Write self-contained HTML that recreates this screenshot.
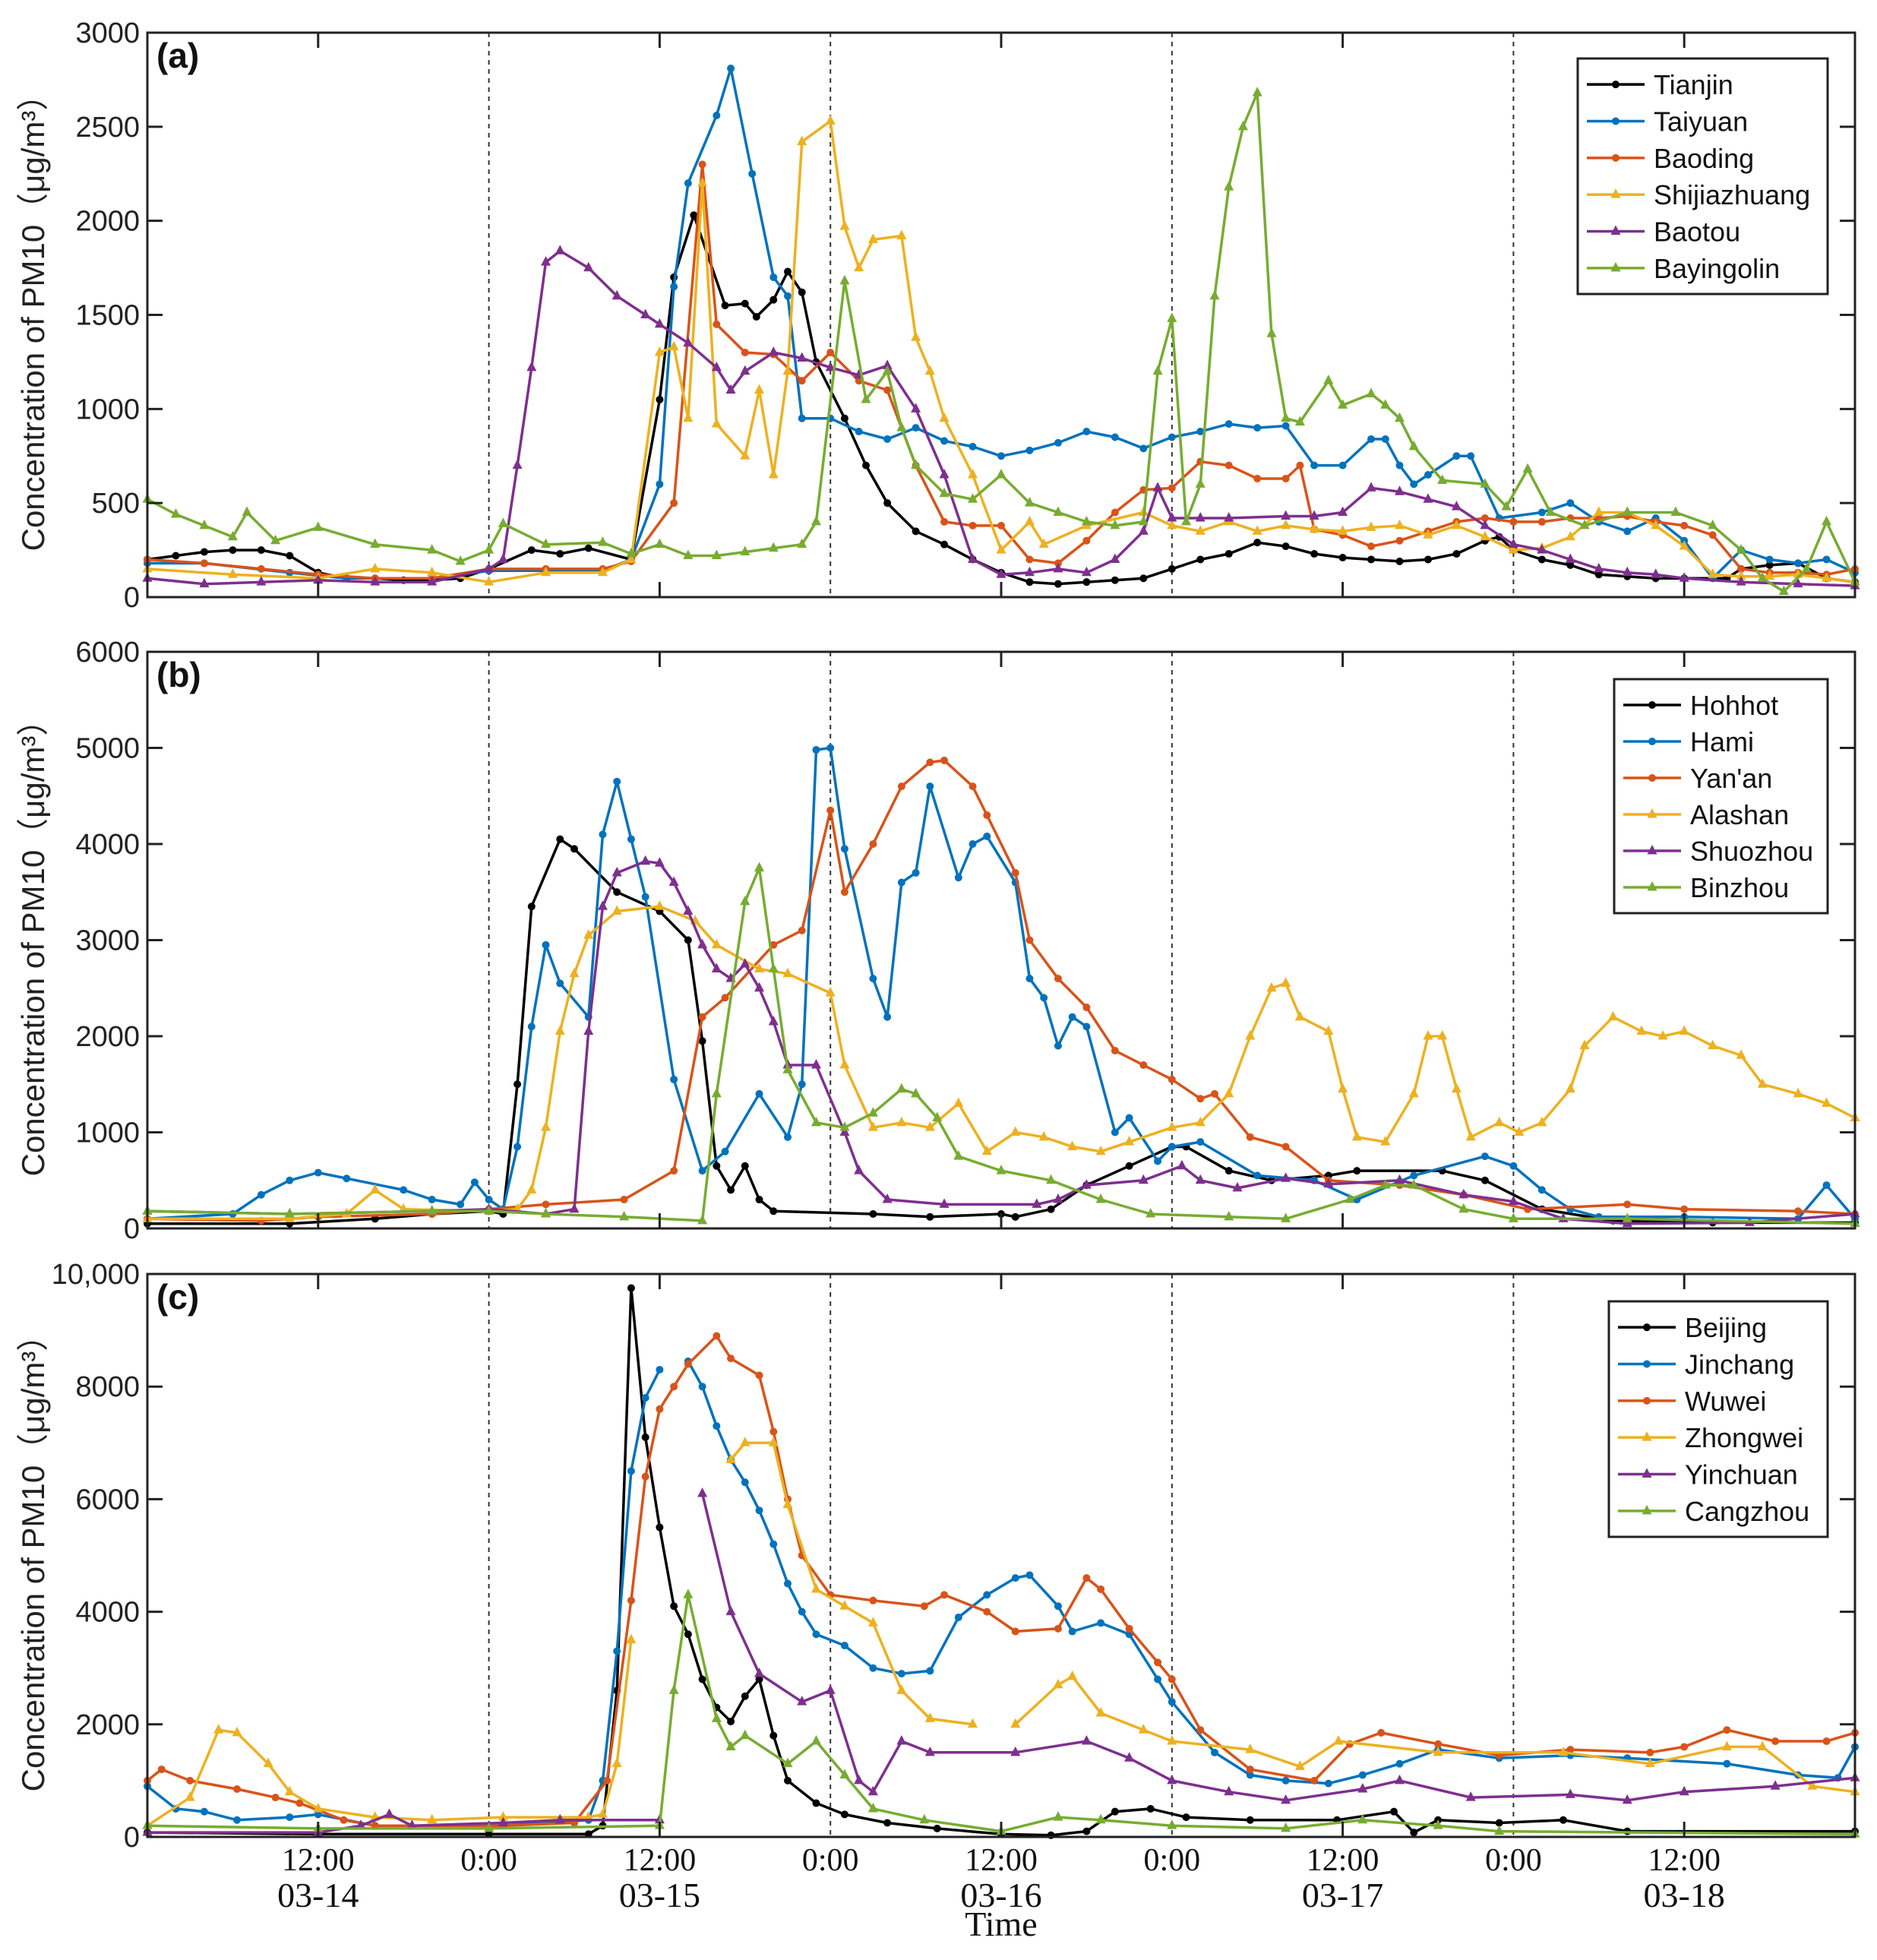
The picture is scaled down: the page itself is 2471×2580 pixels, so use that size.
<!DOCTYPE html>
<html><head><meta charset="utf-8"><style>
html,body{margin:0;padding:0;background:#fff;}
svg{display:block;}
</style></head><body>
<svg id="chart" width="2471" height="2580" viewBox="0 0 2471 2580" xmlns="http://www.w3.org/2000/svg"></svg>
<script>
// ---------- Panel (a) data ----------
const tianjinT=[0,2,4,6,8,10,12,14,16,18,20,22,24,27,29,31,34,36,37,38.4,40.6,42,42.8,44,45,46,47,49,50.5,52,54,56,58,60,62,64,66,68,70,72,74,76,78,80,82,84,86,88,90,92,94,95,96,98,100,102,104,106,108,110,111,112,114,116,118,120];
const tianjinV=[200,220,240,250,250,220,130,100,100,90,90,100,150,250,230,260,200,1050,1700,2030,1550,1560,1490,1580,1730,1620,1250,950,700,500,350,280,200,130,80,70,80,90,100,150,200,230,290,270,230,210,200,190,200,230,300,320,250,200,170,120,110,100,100,100,100,150,170,180,100,80];
const taiyuanT=[0,4,10,14,20,24,28,32,34,36,37,38,40,41,42.5,44,45,46,48,50,52,54,56,58,60,62,64,66,68,70,72,74,76,78,80,82,84,86,87,88,89,90,92,93,95,98,100,102,104,106,108,110,112,114,116,118,120];
const taiyuanV=[180,180,130,100,100,140,140,140,200,600,1650,2200,2560,2810,2250,1700,1600,950,950,880,840,900,830,800,750,780,820,880,850,790,850,880,920,900,910,700,700,840,840,700,600,650,750,750,420,450,500,400,350,420,300,100,250,200,180,200,130];
const baodingT=[0,4,8,12,16,20,24,28,32,34,37,39,40,42,44,46,48,50,52,54,56,58,60,62,64,66,68,70,72,74,76,78,80,81,82,84,86,88,90,92,94,96,98,100,102,104,106,108,110,112,114,116,118,120];
const baodingV=[200,180,150,120,100,100,150,150,150,190,500,2300,1450,1300,1290,1150,1300,1150,1100,700,400,380,380,200,180,300,450,570,580,720,700,630,630,700,360,330,270,300,350,400,420,400,400,420,420,430,400,380,330,150,130,130,120,150];
const shijiazhuangT=[0,6,12,16,20,24,28,32,34,36,37,38,39,40,42,43,44,45,46,48,49,50,51,53,54,55,56,58,60,62,63,66,70,72,74,76,78,80,82,84,86,88,90,92,94,96,98,100,102,104,106,108,110,112,114,116,118,120];
const shijiazhuangV=[150,120,100,150,130,80,130,130,200,1300,1330,950,2200,920,750,1100,650,1200,2420,2530,1970,1750,1900,1920,1380,1200,950,650,250,400,280,380,450,380,350,400,350,380,360,350,370,380,330,380,320,250,260,320,450,450,380,270,120,110,110,120,100,80];
const baotouT=[0,4,8,12,16,20,24,25,26,27,28,29,31,33,35,36,38,40,41,42,44,46,48,50,52,54,56,58,60,62,64,66,68,70,71,72,74,76,80,82,84,86,88,90,92,94,96,98,100,102,104,106,108,112,116,120];
const baotouV=[100,70,80,90,80,80,150,200,700,1220,1780,1840,1750,1600,1500,1450,1350,1220,1100,1200,1300,1270,1220,1180,1230,1000,650,200,120,130,150,130,200,350,580,420,420,420,430,430,450,580,560,520,480,380,280,250,200,150,130,120,100,80,70,60];
const bayingolinT=[0,2,4,6,7,9,12,16,20,22,24,25,28,32,34,36,38,40,42,44,46,47,49,50.5,52,53,54,56,58,60,62,64,66,68,70,71,72,73,74,75,76,77,78,79,80,81,83,84,86,87,88,89,91,94,95.5,97,98.6,101,104,107.4,110,112,113.5,115,116.6,118,120];
const bayingolinV=[520,440,380,320,450,300,370,280,250,190,250,390,280,290,230,280,220,220,240,260,280,400,1680,1050,1200,900,700,550,520,650,500,450,400,380,400,1200,1480,400,600,1600,2180,2500,2680,1400,950,930,1150,1020,1080,1020,950,800,620,600,480,680,450,380,450,450,380,250,100,30,150,400,80];
// ---------- Panel (b) data ----------
const hohhotT=[0,10,16,20,24,25,26,27,29,30,33,36,38,39,40,41,42,43,44,51,55,60,61,63.5,66,69,72,73,76,79,83,85,91,94,98,103,110,120];
const hohhotV=[50,50,100,150,180,150,1500,3350,4050,3950,3500,3300,3000,1950,650,400,650,300,180,150,120,150,120,200,450,650,850,850,600,500,550,600,600,500,200,80,60,60];
const hamiT=[0,6,8,10,12,14,18,20,22,23,24,25,26,27,28,29,31,32,33,34,35,37,39,40.6,43,45,46,47,48,49,51,52,53,54,55,57,58,59,61,62,63,64,65,66,68,69,71,72,74,78,82,85,89,94,96,98,100,102,108,116,118,120];
const hamiV=[100,150,350,500,580,520,400,300,250,480,300,200,850,2100,2950,2550,2200,4100,4650,4050,3450,1550,600,800,1400,950,1500,4980,5000,3950,2600,2200,3600,3700,4600,3650,4000,4080,3600,2600,2400,1900,2200,2100,1000,1150,700,850,900,550,500,300,550,750,650,400,200,120,120,100,450,100];
const yananT=[0,8,12,20,24,28,33.5,37,39,40.6,44,46,48,49,51,53,55,56,58,59,61,62,64,66,68,70,72,74,75,77.5,80,83,88,92.5,97,104,108,116,120];
const yananV=[100,80,120,150,200,250,300,600,2200,2400,2950,3100,4350,3500,4000,4600,4850,4870,4600,4300,3700,3000,2600,2300,1850,1700,1550,1350,1400,950,850,500,450,350,200,250,200,180,150];
const alashanT=[0,10,14,16,18,24,26,27,28,29,30,31,33,36,38.5,40,43,45,48,49,51,53,55,57,59,61,63,65,67,69,72,74,76,77.5,79,80,81,83,84,85,87,89,90,91,92,93,95,96.4,98,100,101,103,105,106.5,108,110,112,113.5,116,118,120];
const alashanV=[100,100,150,400,200,180,200,400,1050,2050,2650,3050,3300,3350,3200,2950,2700,2650,2450,1700,1050,1100,1050,1300,800,1000,950,850,800,900,1050,1100,1400,2000,2500,2550,2200,2050,1450,950,900,1400,2000,2000,1450,950,1100,1000,1100,1450,1900,2200,2050,2000,2050,1900,1800,1500,1400,1300,1150];
const shuozhouT=[0,10,20,24,28,30,31,32,33,35,36,37,38,39,40,41,42,43,44,45,47,49,50,52,56,62.5,64,66,70,72.7,74,76.6,80,83,88,92.5,96,99.5,104,112.6,120];
const shuozhouV=[180,150,180,200,150,200,2050,3350,3700,3820,3800,3600,3300,2950,2700,2600,2750,2500,2150,1700,1700,1000,600,300,250,250,300,450,500,650,500,420,520,460,500,350,280,100,50,60,150];
const binzhouT=[0,10,20,24,28,33.5,39,40,42,43,44,45,47,49,51,53,54,55.5,57,60,63.5,67,70.5,76,80,84.5,87,89,92.5,96,104,120];
const binzhouV=[180,150,180,180,150,120,80,1400,3400,3750,2700,1650,1100,1050,1200,1450,1400,1150,750,600,500,300,150,120,100,300,450,450,200,100,100,50];
// ---------- Panel (c) data ----------
const beijingT=[0,12,24,31,32,33,34,35,36,37,38,39,40,41,42,43,44,45,47,49,52,55.5,60,63.5,66,68,70.5,73,77.5,83.6,87.6,89,90.7,95,99.5,104,120];
const beijingV=[80,50,50,50,200,2600,9750,7100,5500,4100,3600,2800,2300,2050,2500,2800,1800,1000,600,400,250,150,50,30,100,450,500,350,300,300,450,80,300,250,300,100,100];
const jinchangT=[0,2,4,6.3,10,12,16,25,31,32,33,34,35,36,37,38,39,40,41,42,43,44,45,46,47,49,51,53,55,57,59,61,62,64,65,67,69,71,72,75,77.5,80,83,85.4,88,90.7,95,100,104,111,116,118.8,120];
const jinchangV=[900,500,450,300,350,400,200,200,300,1000,3300,6500,7800,8300,null,8450,8000,7300,6700,6300,5800,5200,4500,4000,3600,3400,3000,2900,2950,3900,4300,4600,4650,4100,3650,3800,3600,2800,2400,1500,1100,1000,950,1100,1300,1550,1400,1450,1400,1300,1100,1050,1600];
const wuweiT=[0,1,3,6.3,9,10.7,13.8,16,25,30,32.3,34,35,36,37,38,40,41,43,44,45,46,48,51,54.6,56,59,61,64,66,67,69,71,72,74,77.5,82,84.5,86.7,90.7,95,100,105.6,108,111,114.4,118,120];
const wuweiV=[1000,1200,1000,850,700,600,300,200,200,250,1000,4200,6400,7600,8000,8400,8900,8500,8200,7200,6000,5000,4300,4200,4100,4300,4000,3650,3700,4600,4400,3700,3100,2800,1900,1200,1000,1650,1850,1650,1450,1550,1500,1600,1900,1700,1700,1850];
const zhongweiT=[0,3,5,6.3,8.5,10,12,16,20,25,31,32,33,34,37,41,42,44,45,47,49,51,53,55,58,59,61,64,65,67,70,72,77.5,81,83.7,90.7,99.5,105.6,111,113.5,117,120];
const zhongweiV=[200,700,1900,1850,1300,800,500,350,300,350,350,400,1300,3500,null,6700,7000,7000,5900,4400,4100,3800,2600,2100,2000,null,2000,2700,2850,2200,1900,1700,1550,1250,1700,1500,1500,1300,1600,1600,900,800];
const yinchuanT=[0,12,15,17,18.6,25,29,36,37,39,41,43,46,48,50,51,53,55,61,66,69,72,76,80,85.4,88,93,100,104,108,114.4,120];
const yinchuanV=[80,80,200,400,200,250,300,300,null,6100,4000,2900,2400,2600,1000,800,1700,1500,1500,1700,1400,1000,800,650,850,1000,700,750,650,800,900,1050];
const cangzhouT=[0,12,24,36,37,38,40,41,42,45,47,49,51,54.6,60,64,67,72,80,85.4,90.7,95,120];
const cangzhouV=[200,150,150,200,2600,4300,2100,1600,1800,1300,1700,1100,500,300,100,350,300,200,150,300,200,100,50];

const ticksA=[0,500,1000,1500,2000,2500,3000];
const ticksB=[0,1000,2000,3000,4000,5000,6000];
const ticksC=[0,2000,4000,6000,8000,10000];
const tickLabelsC=["0","2000","4000","6000","8000","10,000"];
const xTickHours=[12,36,60,84,108];
const xTickLabels=["12:00","0:00","12:00","0:00","12:00","0:00","12:00","0:00","12:00"];
const xLabelHours=[12,24,36,48,60,72,84,96,108];
const dateLabels=["03-14","03-15","03-16","03-17","03-18"];
const dayLines=[24,48,72,96];

const COLORS=["#000000","#0072BD","#D95319","#EDB120","#7E2F8E","#77AC30"];
const svg=document.getElementById('chart');
const NS="http://www.w3.org/2000/svg";
function mk(tag,attrs,parent){const e=document.createElementNS(NS,tag);for(const k in attrs)e.setAttribute(k,attrs[k]);(parent||svg).appendChild(e);return e;}

const X0=194,X1=2442,TMAX=120;
function xs(t){return X0+(t/TMAX)*(X1-X0);}

const panels=[
 {id:'a',label:'(a)',top:43,bot:786,max:3000,ticks:ticksA,tl:ticksA.map(String),
  series:[['Tianjin',tianjinT,tianjinV],['Taiyuan',taiyuanT,taiyuanV],['Baoding',baodingT,baodingV],['Shijiazhuang',shijiazhuangT,shijiazhuangV],['Baotou',baotouT,baotouV],['Bayingolin',bayingolinT,bayingolinV]],
  leg:[2077,77,2406,387]},
 {id:'b',label:'(b)',top:858,bot:1617,max:6000,ticks:ticksB,tl:ticksB.map(String),
  series:[['Hohhot',hohhotT,hohhotV],['Hami',hamiT,hamiV],["Yan'an",yananT,yananV],['Alashan',alashanT,alashanV],['Shuozhou',shuozhouT,shuozhouV],['Binzhou',binzhouT,binzhouV]],
  leg:[2125,894,2406,1202]},
 {id:'c',label:'(c)',top:1677,bot:2418,max:10000,ticks:ticksC,tl:tickLabelsC,
  series:[['Beijing',beijingT,beijingV],['Jinchang',jinchangT,jinchangV],['Wuwei',wuweiT,wuweiV],['Zhongwei',zhongweiT,zhongweiV],['Yinchuan',yinchuanT,yinchuanV],['Cangzhou',cangzhouT,cangzhouV]],
  leg:[2118,1713,2406,2023]}
];

function marker(g,i,x,y,color){
  if(i<3){ return mk('circle',{cx:x,cy:y,r:5,fill:color},g); }
  return mk('polygon',{points:`${x},${y-8} ${x-6.5},${y+4.5} ${x+6.5},${y+4.5}`,fill:color},g);
}

panels.forEach(p=>{
  const g=mk('g',{});
  
  
  const ys=v=>p.bot-(v/p.max)*(p.bot-p.top);
  // day dashed lines
  dayLines.forEach(h=>{
    const l=mk('line',{x1:xs(h),x2:xs(h),y1:p.top,y2:p.bot,stroke:'#333','stroke-width':2,'stroke-dasharray':'6,6'},g);
    
    
  });
  // series
  p.series.forEach((s,i)=>{
    const [name,T,V]=s;
    const sg=mk('g',{},g);
    
    
    const n=Math.min(T.length,V.length);
    let d='',pen=false;
    for(let k=0;k<n;k++){
      if(V[k]===null){pen=false;continue;}
      d+=(pen?'L':'M')+xs(T[k]).toFixed(1)+','+ys(V[k]).toFixed(1);pen=true;
    }
    mk('path',{d:d,fill:'none',stroke:COLORS[i],'stroke-width':3.5,'stroke-linejoin':'round'},sg);
    for(let k=0;k<n;k++){ if(V[k]===null)continue; marker(sg,i,xs(T[k]),ys(V[k]),COLORS[i]); }
  });
  // axes box
  const box=mk('rect',{x:X0,y:p.top,width:X1-X0,height:p.bot-p.top,fill:'none',stroke:'#222','stroke-width':3},g);
  
  
  // y ticks
  p.ticks.forEach((v,k)=>{
    const y=ys(v);
    mk('line',{x1:X0,x2:X0+20,y1:y,y2:y,stroke:'#222','stroke-width':3},g);
    mk('line',{x1:X1-20,x2:X1,y1:y,y2:y,stroke:'#222','stroke-width':3},g);
    const t=mk('text',{x:X0-10,y:y+13,'text-anchor':'end','font-family':'Liberation Sans, sans-serif','font-size':38,fill:'#222'},g);
    t.textContent=p.tl[k];
    
    
  });
  // x ticks
  xTickHours.forEach(h=>{
    mk('line',{x1:xs(h),x2:xs(h),y1:p.bot,y2:p.bot-20,stroke:'#222','stroke-width':3},g);
    mk('line',{x1:xs(h),x2:xs(h),y1:p.top,y2:p.top+20,stroke:'#222','stroke-width':3},g);
  });
  // y title
  const yt=mk('text',{transform:`translate(58,${(p.top+p.bot)/2}) rotate(-90)`,'text-anchor':'middle','font-family':'Liberation Sans, "Noto Sans CJK SC", sans-serif','font-size':42,fill:'#222'},g);
  yt.textContent='Concentration of PM10（μg/m³）';
  
  
  // panel label
  const pl=mk('text',{x:206,y:p.top+46,'font-family':'Liberation Sans, sans-serif','font-size':46,'font-weight':'bold',fill:'#111'},g);
  pl.textContent=p.label;
  
  
  // legend
  const [lx0,ly0,lx1,ly1]=p.leg;
  const lg=mk('g',{},g);
  
  
  mk('rect',{x:lx0,y:ly0,width:lx1-lx0,height:ly1-ly0,fill:'#fff',stroke:'#222','stroke-width':3},lg);
  const rowH=(ly1-ly0-20)/6;
  p.series.forEach((s,i)=>{
    const cy=ly0+10+rowH*(i+0.5);
    const eg=mk('g',{},lg);
    
    
    mk('line',{x1:lx0+12,x2:lx0+88,y1:cy,y2:cy,stroke:COLORS[i],'stroke-width':3.5},eg);
    marker(eg,i,lx0+50,cy,COLORS[i]);
    const t=mk('text',{x:lx0+100,y:cy+13,'font-family':'Liberation Sans, sans-serif','font-size':36,fill:'#111'},eg);
    t.textContent=s[0];
  });
});

// x tick labels (bottom)
const xg=mk('g',{});


xLabelHours.forEach((h,k)=>{
  const t=mk('text',{x:xs(h),y:2462,'text-anchor':'middle','font-family':'Liberation Serif, serif','font-size':42,fill:'#111'},xg);
  t.textContent=xTickLabels[k];
  
  
});
xTickHours.forEach((h,k)=>{
  const t=mk('text',{x:xs(h),y:2510,'text-anchor':'middle','font-family':'Liberation Serif, serif','font-size':46,fill:'#111'},xg);
  t.textContent=dateLabels[k];
  
  
});
const tt=mk('text',{x:xs(60),y:2548,'text-anchor':'middle','font-family':'Liberation Serif, serif','font-size':46,fill:'#111'},xg);
tt.textContent='Time';


</script>
</body></html>
